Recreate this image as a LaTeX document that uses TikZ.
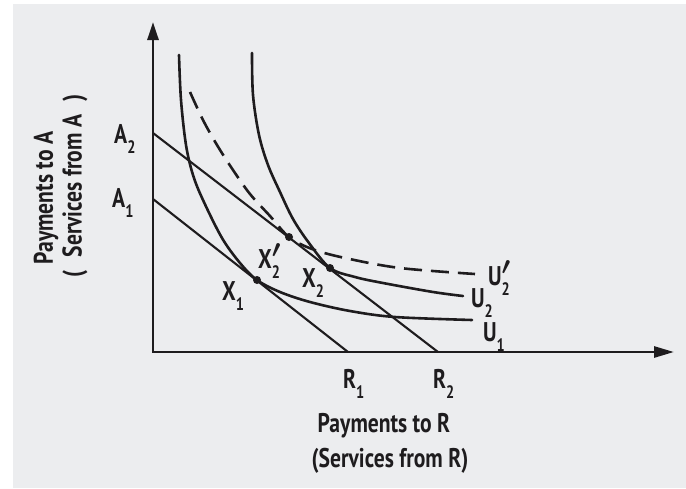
\documentclass[tikz,border=0pt]{standalone}
\usepackage{fontspec}
\setmainfont{PT Sans}[FakeStretch=0.8]
\usetikzlibrary{arrows.meta}
\definecolor{bg}{RGB}{236,237,239}
\definecolor{ink}{RGB}{30,28,30}
\newcommand{\lowsub}[1]{\raisebox{-0.38em}{\fontsize{18pt}{18pt}\selectfont #1}}
\newcommand{\primemark}{\raisebox{0.38em}{\fontsize{23pt}{23pt}\selectfont\boldmath$\prime$}}
\tikzset{
  lab/.style={text=ink, inner sep=0pt, font=\fontsize{27pt}{30pt}\selectfont\bfseries},
  axisline/.style={draw=ink, line width=2.8pt, line cap=rect, line join=miter},
  bline/.style={draw=ink, line width=2.1pt},
  ucurve/.style={draw=ink, line width=2.6pt, line cap=round},
  ucurvedash/.style={ucurve, line cap=butt, dash pattern=on 18pt off 9pt},
  dot/.style={circle, fill=ink, inner sep=0pt, minimum size=8pt},
}
\begin{document}
\begin{tikzpicture}[x=1pt,y=-1pt]
\fill[white] (0,0) rectangle (686,488);
\fill[bg] (13,4) rectangle (686,488);
\useasboundingbox (0,0) rectangle (686,488);

% key points
\coordinate (O) at (153,352);
\coordinate (ytip) at (153,22);
\coordinate (xtip) at (674,352);
\coordinate (A2) at (153,133);
\coordinate (A1) at (153,199);
\coordinate (R1) at (348,352);
\coordinate (R2) at (438,352);
\coordinate (X1) at (257,280);
\coordinate (X2p) at (289,237);
\coordinate (X2) at (330,268);

% axes
\draw[axisline, {Triangle[length=18pt,width=11pt]}-{Triangle[length=20pt,width=11pt]}] (ytip) -- (O) -- (xtip);

% budget lines
\draw[bline] (A2) -- (R2);
\draw[bline] (A1) -- (R1);

% indifference curves
\draw[ucurve] plot[smooth, tension=0.55] coordinates {(179,55) (181,100) (186,145) (193,175) (203,200) (222,238) (240,263) (X1) (280,292) (310,302) (350,311) (395,317) (472,320)};
\draw[ucurve] plot[smooth, tension=0.55] coordinates {(252,53) (253,95) (259,135) (268,165) (280,192) (293,219) (309,243) (X2) (355,277) (383,283) (433,292) (463,296)};
\draw[ucurvedash] plot[smooth, tension=0.55] coordinates {(190,92) (203,120) (217,145) (233,170) (250,194) (270,216) (X2p) (312,249) (345,258) (400,268) (475,274)};

% tangency points
\node[dot] (dX1) at (X1) {};
\node[dot] (dX2p) at (X2p) {};
\node[dot] (dX2) at (X2) {};

% labels
\node[lab, anchor=base west] (lA2) at (114,143) {A\lowsub{2}};
\node[lab, anchor=base west] (lA1) at (112,207) {A\lowsub{1}};
\node[lab, anchor=base west] (lR1) at (343,388) {R\lowsub{1}};
\node[lab, anchor=base west] (lR2) at (433,388) {R\lowsub{2}};
\node[lab, anchor=base west] (lX1) at (222,300) {X\lowsub{1}};
\node[lab, anchor=base west] (lX2p) at (258,268) {X\rlap{\primemark}\lowsub{2}};
\node[lab, anchor=base west] (lX2) at (302,287) {X\lowsub{2}};
\node[lab, anchor=base west] (lU2p) at (488,285) {U\rlap{\primemark}\lowsub{2}};
\node[lab, anchor=base west] (lU2) at (471,307) {U\lowsub{2}};
\node[lab, anchor=base west] (lU1) at (483,341) {U\lowsub{1}};

\node[lab] (xlab1) at (384,426) {Payments to R};
\node[lab] (xlab2) at (390,461) {(Services from R)};
\node[lab, rotate=90] (ylab1) at (46,198) {Payments to A};
\node[lab, rotate=90] (ylab2) at (75,186) {(\enspace Services from A\enspace)};
\end{tikzpicture}
\end{document}
